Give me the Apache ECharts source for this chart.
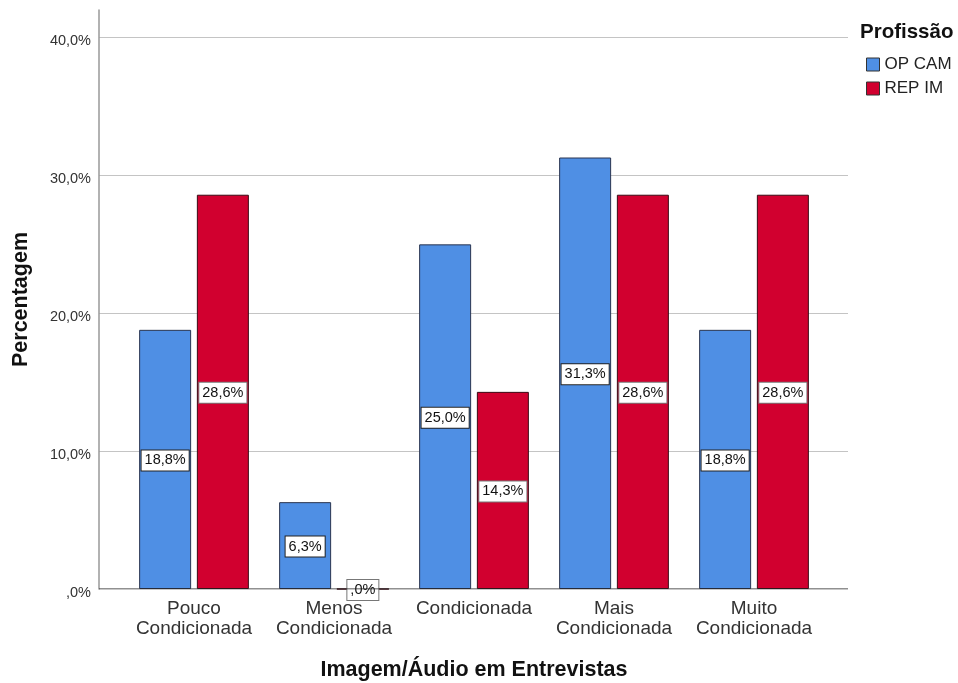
<!DOCTYPE html>
<html>
<head>
<meta charset="utf-8">
<script src="https://cdn.jsdelivr.net/npm/echarts@6/dist/echarts.min.js"></script>
<style>
  html, body { margin: 0; padding: 0; background: #fff; }
  #chart { width: 958px; height: 683px; }
</style>
</head>
<body>
<div id="chart"></div>
<script>
// Categories and percentages per profession
const categories = ['Pouco\nCondicionada', 'Menos\nCondicionada', 'Condicionada', 'Mais\nCondicionada', 'Muito\nCondicionada'];
const opCam = [18.8, 6.3, 25.0, 31.3, 18.8];
const repIm = [28.6, 0.0, 14.3, 28.6, 28.6];
const seriesNames = ['OP CAM', 'REP IM'];
const yTicks = [0, 10, 20, 30, 40];

const BLUE = '#4F8FE4';
const RED = '#D1002F';
const FONT = '"Liberation Sans", Arial, sans-serif';

// Portuguese percentage format: 18.8 -> "18,8%", 0 -> ",0%"
function pct(v) {
  let s = v.toFixed(1).replace('.', ',');
  if (s.startsWith('0,')) s = s.slice(1);
  return s + '%';
}

const chart = echarts.init(document.getElementById('chart'), null, { renderer: 'canvas' });

const labelStyle = {
  show: true,
  position: 'inside',
  formatter: p => pct(p.value),
  color: '#111',
  fontFamily: FONT,
  fontSize: 14.5,
  lineHeight: 16,
  backgroundColor: '#fff',
  borderColor: '#222',
  borderWidth: 1,
  padding: [2, 3, 2, 3],
  offset: [0, 1]
};

const yMax = 42;

chart.setOption({
  animation: false,
  textStyle: { fontFamily: FONT },
  grid: [
    // frame: gridlines, value axis and base line
    { left: 99, right: 110, top: 10, bottom: 94, outerBoundsMode: 'none' },
    // bars
    { left: 124, right: 134, top: 10, bottom: 94, outerBoundsMode: 'none' }
  ],
  legend: {
    orient: 'vertical',
    left: 861,
    top: 51,
    itemWidth: 13,
    itemHeight: 13,
    itemGap: 7,
    icon: 'rect',
    data: seriesNames.map(n => ({
      name: n,
      itemStyle: { borderColor: '#333', borderWidth: 1 }
    })),
    textStyle: { fontFamily: FONT, fontSize: 17, color: '#222' }
  },
  graphic: [
    {
      type: 'text',
      x: 860,
      y: 32,
      style: {
        text: 'Profissão',
        font: 'bold 20.5px ' + FONT,
        fill: '#111',
        verticalAlign: 'middle'
      }
    }
  ],
  xAxis: [
    {
      gridIndex: 0,
      type: 'value',
      min: 0, max: 1,
      axisLine: { show: false },
      axisTick: { show: false },
      axisLabel: { show: false },
      splitLine: { show: false }
    },
    {
      gridIndex: 1,
      type: 'category',
      data: categories,
      axisLine: { show: false },
      axisTick: { show: false },
      axisLabel: {
        color: '#333',
        fontFamily: FONT,
        fontSize: 19,
        lineHeight: 20,
        margin: 10,
        interval: 0
      },
      name: 'Imagem/Áudio em Entrevistas',
      nameLocation: 'middle',
      nameGap: 70,
      nameTextStyle: { fontFamily: FONT, fontSize: 21.5, fontWeight: 'bold', color: '#111' }
    }
  ],
  yAxis: [
    {
      gridIndex: 0,
      type: 'value',
      min: 0,
      max: yMax,
      interval: 10,
      axisLine: { show: true, onZero: false, lineStyle: { color: '#999', width: 1.5 } },
      axisTick: { show: false },
      axisLabel: {
        color: '#333',
        fontFamily: FONT,
        fontSize: 14.5,
        lineHeight: 7,
        verticalAlign: 'top',
        margin: 8,
        formatter: v => (yTicks.includes(v) ? pct(v) : '')
      },
      splitLine: { show: true, showMinLine: false, showMaxLine: false, lineStyle: { color: '#c4c4c4', width: 1.2 } },
      name: 'Percentagem',
      nameLocation: 'middle',
      nameGap: 67,
      nameRotate: 90,
      nameTextStyle: { fontFamily: FONT, fontSize: 21.5, fontWeight: 'bold', color: '#111' }
    },
    {
      gridIndex: 1,
      type: 'value',
      min: 0,
      max: yMax,
      show: false
    }
  ],
  series: [
    {
      // base line along 0%
      type: 'line',
      xAxisIndex: 0,
      yAxisIndex: 0,
      data: [[0, 0], [1, 0]],
      symbol: 'none',
      silent: true,
      lineStyle: { color: '#222', width: 1.2 },
      z: 4
    },
    {
      name: seriesNames[0],
      type: 'bar',
      xAxisIndex: 1,
      yAxisIndex: 1,
      data: opCam,
      barWidth: 52,
      barGap: '11%',
      itemStyle: { color: BLUE, borderColor: '#2a3550', borderWidth: 1 },
      label: labelStyle,
      z: 3
    },
    {
      name: seriesNames[1],
      type: 'bar',
      xAxisIndex: 1,
      yAxisIndex: 1,
      data: repIm,
      barWidth: 52,
      itemStyle: { color: RED, borderColor: '#3a0a14', borderWidth: 1 },
      label: Object.assign({}, labelStyle, { borderColor: '#777' }),
      z: 3
    }
  ]
});
</script>
</body>
</html>
